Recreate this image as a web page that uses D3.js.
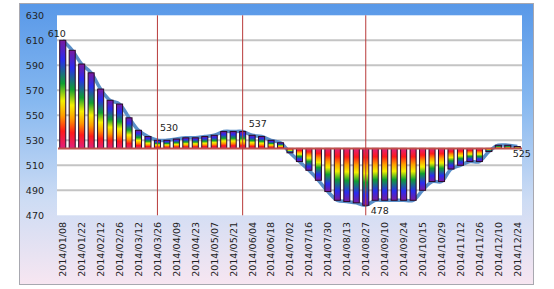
<!DOCTYPE html>
<html><head><meta charset="utf-8">
<script src="https://cdn.jsdelivr.net/npm/d3@7"></script>
<style>html,body{margin:0;padding:0;background:#fff;}svg{display:block;}</style>
</head><body>
<svg id="chart" width="554" height="289"></svg>
<script>
// ---- data ----
const dates = ["2014/01/08","2014/01/15","2014/01/22","2014/01/29","2014/02/12","2014/02/19","2014/02/26",
"2014/03/05","2014/03/12","2014/03/19","2014/03/26","2014/04/02","2014/04/09","2014/04/16","2014/04/23",
"2014/04/30","2014/05/07","2014/05/14","2014/05/21","2014/05/28","2014/06/04","2014/06/11","2014/06/18",
"2014/06/25","2014/07/02","2014/07/09","2014/07/16","2014/07/23","2014/07/30","2014/08/06","2014/08/13",
"2014/08/20","2014/08/27","2014/09/03","2014/09/10","2014/09/17","2014/09/24","2014/10/08","2014/10/15",
"2014/10/22","2014/10/29","2014/11/05","2014/11/12","2014/11/19","2014/11/26","2014/12/03","2014/12/10",
"2014/12/17","2014/12/24"];
const values = [610,602,591,584,571,562,559,548,538,533,530,530,531,532,532,533,534,537,537,537,534,533,530,528,
520,513,506,498,489,482,481,480,478,482,482,482,482,482,490,497,497,507,510,513,513,521,526,526,525];
const baseline = 523.5;
const yTicks = [470,490,510,530,550,570,590,610,630];
const markerDates = ["2014/03/26","2014/05/28","2014/08/27"];
const labelDates = ["2014/01/08","2014/03/26","2014/05/28","2014/08/27","2014/12/24"];

// ---- layout ----
const svg = d3.select("#chart");
const L = 58, R = 522, T = 15.3, B = 215.3;
const x = d3.scaleBand().domain(dates).range([L, R]).paddingInner(0.36).paddingOuter(0.18);
const y = d3.scaleLinear().domain([470, 630]).range([B, T]);
const cx = d => x(d) + x.bandwidth() / 2;

const defs = svg.append("defs");
const bg = defs.append("linearGradient").attr("id","bg").attr("x1",0).attr("y1",0).attr("x2",0).attr("y2",1);
[[0,"#5898e8"],[0.35,"#86b8f0"],[0.7,"#cddcf4"],[1,"#f7e6f1"]].forEach(s=>bg.append("stop").attr("offset",s[0]).attr("stop-color",s[1]));
const stops = [[0,"#7a1a9e"],[0.18,"#2a2cf0"],[0.4,"#10a030"],[0.56,"#f4f000"],[0.7,"#ff9a00"],[0.84,"#ff1a1a"],[1,"#e0207e"]];
const gp = defs.append("linearGradient").attr("id","gpos").attr("x1",0).attr("y1",0).attr("x2",0).attr("y2",1);
stops.forEach(s=>gp.append("stop").attr("offset",s[0]).attr("stop-color",s[1]));
const gn = defs.append("linearGradient").attr("id","gneg").attr("x1",0).attr("y1",1).attr("x2",0).attr("y2",0);
stops.forEach(s=>gn.append("stop").attr("offset",s[0]).attr("stop-color",s[1]));

// panel background
svg.append("rect").attr("x",19.5).attr("y",3.5).attr("width",514).attr("height",281)
  .attr("fill","url(#bg)").attr("stroke","#a8a8b0");
// plot area
svg.append("rect").attr("x",L-1).attr("y",T).attr("width",R-L+1).attr("height",B-T).attr("fill","#fff");

// gridlines
svg.append("g").selectAll("line").data(yTicks.filter(v=>v>470 && v<630)).join("line")
  .attr("x1",L-1).attr("x2",R).attr("y1",d=>y(d)).attr("y2",d=>y(d))
  .attr("stroke","#c4c4c4").attr("stroke-width",2);

// y labels
svg.append("g").selectAll("text").data(yTicks).join("text")
  .attr("x",44).attr("y",d=>y(d)).attr("dy","0.35em").attr("text-anchor","end")
  .attr("font-family","DejaVu Sans, Verdana, sans-serif").attr("font-size",9.5).attr("fill","#222")
  .text(d=>d);

// x labels
svg.append("g").selectAll("text").data(dates.filter((d,i)=>i%2===0)).join("text")
  .attr("transform",d=>`translate(${cx(d)+3.4},222) rotate(-90)`)
  .attr("text-anchor","end")
  .attr("font-family","DejaVu Sans, Verdana, sans-serif").attr("font-size",9.5).attr("fill","#222")
  .text(d=>d);

// smooth line (behind bars)
const line = d3.line().x((d,i)=>cx(dates[i])).y(d=>y(d)).curve(d3.curveCatmullRom.alpha(0.5));
svg.append("path").attr("d",line(values)).attr("fill","none")
  .attr("stroke","#5a8fc9").attr("stroke-width",3.5).attr("stroke-linejoin","round");

// bars
svg.append("g").selectAll("rect").data(values).join("rect")
  .attr("x",(d,i)=>x(dates[i])).attr("width",x.bandwidth())
  .attr("y",d=>y(Math.max(d,baseline))).attr("height",d=>Math.abs(y(d)-y(baseline)))
  .attr("fill",d=>d>=baseline?"url(#gpos)":"url(#gneg)")
  .attr("stroke","#2a0a2a").attr("stroke-width",1);

// baseline
svg.append("line").attr("x1",L).attr("x2",R).attr("y1",y(baseline)).attr("y2",y(baseline))
  .attr("stroke","#c0504d").attr("stroke-width",2);

// vertical markers
svg.append("g").selectAll("line").data(markerDates).join("line")
  .attr("x1",d=>cx(d)).attr("x2",d=>cx(d)).attr("y1",T).attr("y2",B)
  .attr("stroke","#b83a3a").attr("stroke-width",1);

// data labels
const offs = {"2014/01/08":[-6,-3,"middle"],"2014/03/26":[2.5,-9,"start"],"2014/05/28":[6,-5,"start"],
  "2014/08/27":[5,9,"start"],"2014/12/24":[-4.5,10.5,"start"]};
svg.append("g").selectAll("text").data(labelDates).join("text")
  .attr("x",d=>cx(d)+offs[d][0]).attr("y",d=>y(values[dates.indexOf(d)])+offs[d][1])
  .attr("text-anchor",d=>offs[d][2])
  .attr("font-family","DejaVu Sans, Verdana, sans-serif").attr("font-size",9.5).attr("fill","#222")
  .text(d=>values[dates.indexOf(d)]);
</script>
</body></html>
